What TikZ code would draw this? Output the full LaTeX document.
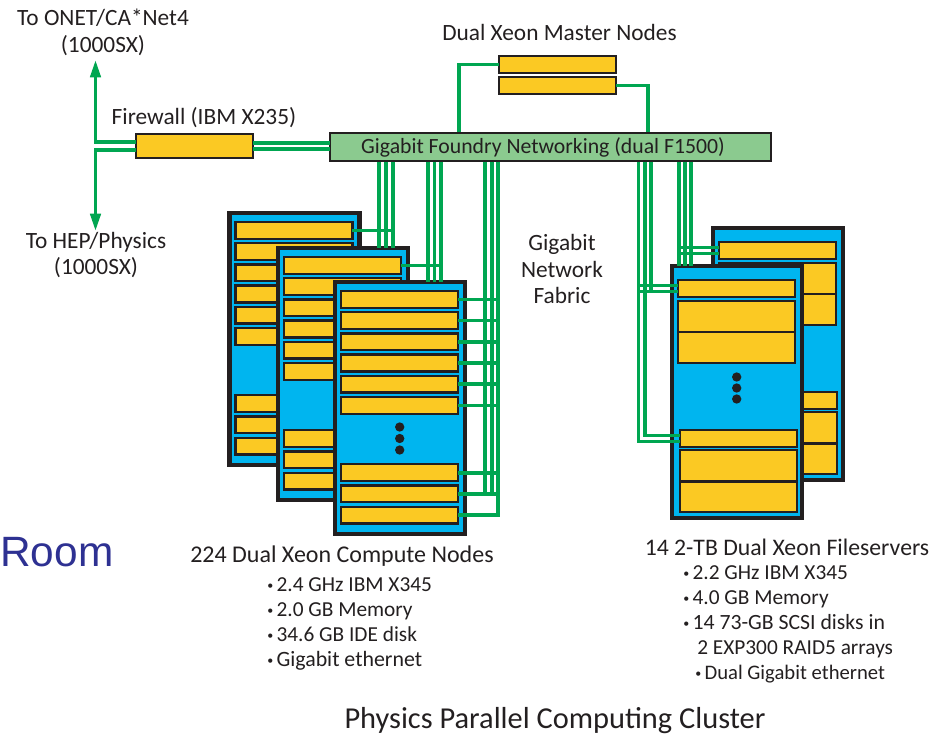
\documentclass[tikz,border=0pt]{standalone}
\usepackage{fontspec}
\setmainfont{Carlito}
\newfontfamily\arialfont{Liberation Sans}
\usetikzlibrary{arrows.meta,calc}
\definecolor{netgreen}{HTML}{00A651}
\definecolor{rackblue}{HTML}{00B5EF}
\definecolor{modyellow}{HTML}{FBC923}
\definecolor{inkdark}{HTML}{231F20}
\definecolor{switchgreen}{HTML}{8BCA8F}
\definecolor{roomblue}{HTML}{2E3192}
\tikzset{
  rackbox/.style={draw=inkdark,fill=rackblue,line width=3.2pt,anchor=north west,inner sep=0pt,outer sep=0pt,minimum width=97.5pt,minimum height=189pt},
  modbox/.style={draw=inkdark,fill=modyellow,line width=1.7pt,anchor=north west,inner sep=0pt,outer sep=0pt,minimum width=87.7pt,minimum height=#1},
  modbox/.default=12.6pt,
  dotmark/.style={circle,fill=inkdark,inner sep=0pt,minimum size=7pt},
  wire/.style={draw=netgreen,line width=2.7pt},
  thickwire/.style={draw=netgreen,line width=3pt},
  label/.style={text=inkdark,inner sep=0pt,font=\fontsize{17.5}{20}\selectfont,align=center},
  listlabel/.style={text=inkdark,inner sep=0pt,font=\fontsize{16}{18.75}\selectfont,anchor=base west},
}
\newcommand{\computerack}[3]{%
  \node[rackbox] (#1) at (#2+2,#3+2) {};
  \foreach \i in {0,...,5}{\node[modbox] (#1m\i) at ({#2+8},{#3+11+21.2*\i}) {};}
  \foreach \i in {0,1,2}{\node[modbox] (#1b\i) at ({#2+8},{#3+184.3+21.2*\i}) {};}
}
\newcommand{\filerack}[4]{%
  \node[rackbox] (#1) at (#2+2,#3+2) {};
  \node[modbox] (#1t0) at ({#2+8},{#3+16}) {};
  \node[modbox=23.2pt] (#1t1) at ({#2+8},{#3+37}) {};
  \node[modbox=23.2pt] (#1t2) at ({#2+8},{#3+68.2}) {};
  \node[modbox] (#1b0) at ({#2+8+#4},{#3+166}) {};
  \node[modbox=23.2pt] (#1b1) at ({#2+8+#4},{#3+186}) {};
  \node[modbox=23.2pt] (#1b2) at ({#2+8+#4},{#3+217.4}) {};
}
\newcommand{\bul}{{\fontsize{9}{9}\selectfont\raisebox{1pt}{•}}\hspace{2.5pt}}
\begin{document}
\begin{tikzpicture}[x=0.75pt,y=-0.75pt]
\useasboundingbox (0,0) rectangle (933,736);
% racks
\computerack{ra}{227.5}{211}
\computerack{rb}{276}{246}
\computerack{rc}{333}{280}
\filerack{fb}{711}{226}{1}
\filerack{ff}{670}{264}{2}
\foreach \n/\y in {d1/427,d2/438.5,d3/450}{\node[dotmark] (\n) at (399.7,\y) {};}
\foreach \n/\y in {e1/377,e2/388,e3/399}{\node[dotmark] (\n) at (736.7,\y) {};}
% switch, firewall, masters
\node[draw=inkdark,fill=switchgreen,line width=1.5pt,inner sep=0pt,outer sep=0pt,minimum width=331pt,minimum height=21pt,anchor=north west] (sw) at (330,133) {};
\node[modbox=18pt] (fw) at (136,134) {};
\node[modbox] (m1) at (499,56) {};
\node[modbox] (m2) at (499,77) {};
% bundle coordinates
\foreach \n/\x in {a1/379,a2/386,a3/393,c1/428,c2/434.5,c3/441,g1/485,g2/492,g3/498,l1/638.5,l2/645,l3/651,q1/679,q2/685,q3/691}{\coordinate (\n) at (\x,162);}
\coordinate (upTip) at (95.5,60);
\coordinate (downTip) at (95.5,231);
\coordinate (mL) at (459,132);
\coordinate (mR) at (648,132);
% firewall links
\draw[wire,-{Triangle[length=13pt,width=7.7pt]}] ([yshift=3pt]fw.west) -| (upTip);
\draw[wire,-{Triangle[length=13pt,width=7.7pt]}] ([yshift=-3pt]fw.west) -| (downTip);
\draw[thickwire] ([yshift=2.25pt]fw.east) -- ([yshift=2.25pt]fw.east -| sw.west);
\draw[thickwire] ([yshift=-2.25pt]fw.east) -- ([yshift=-2.25pt]fw.east -| sw.west);
% masters
\draw[wire] (m1.west) -| (mL);
\draw[wire] (m2.east) -| (mR);
% compute bundles
\foreach \n in {a1,a2,a3}{\draw[wire] (\n) -- (\n |- rb.north);}
\foreach \n in {c1,c2,c3}{\draw[wire] (\n) -- (\n |- rc.north);}
\draw[wire] (ram0.east) -- (ram0.east -| a3);
\draw[wire] (rbm0.east) -- (rbm0.east -| c3);
\foreach \n in {rcm0,rcm1,rcm2,rcm3,rcm4,rcm5,rcb0,rcb1}{\draw[wire] (\n.east) -- (\n.east -| g3);}
\draw[wire] (g1) -- (g1 |- rcb1.east);
\draw[wire] (g2) -- (g2 |- rcb1.east);
\draw[wire] (g3) |- (rcb2.east);
% fileserver bundles
\foreach \n in {q1,q2,q3}{\draw[wire] (\n) -- (\n |- ff.north);}
\draw[wire] (l1) |- ([yshift=-2.25pt]ffb0.west);
\draw[wire] (l2) |- ([yshift=2.25pt]ffb0.west);
\draw[wire] (l3) |- ([yshift=-2.25pt]fft0.west);
\draw[wire] ([yshift=2.25pt]fft0.west -| l1) -- ([yshift=2.25pt]fft0.west);
\draw[wire] ([yshift=-2.25pt]fft0.west -| l1) -- ([yshift=-2.25pt]fft0.west);
\draw[wire] ([yshift=2.25pt]fbt0.west -| q1) -- ([yshift=2.25pt]fbt0.west);
\draw[wire] ([yshift=-2.25pt]fbt0.west -| q1) -- ([yshift=-2.25pt]fbt0.west);
% labels
\node[label] (tOnet) at (103,32) {To ONET/CA*Net4\\(1000SX)};
\node[label] (tHep) at (96,255) {To HEP/Physics\\(1000SX)};
\node[label] (tFw) at (204,118) {Firewall (IBM X235)};
\node[label] (tMaster) at (559.5,32) {Dual Xeon Master Nodes};
\node[label,font=\fontsize{16.3}{20}\selectfont] (tSw) at (543,147) {Gigabit Foundry Networking (dual F1500)};
\node[label] (tFabric) at (562,269) {Gigabit\\Network\\Fabric};
\node[label,font=\fontsize{18}{20}\selectfont] (tCompute) at (342,556) {224 Dual Xeon Compute Nodes};
\node[label,font=\fontsize{17.8}{20}\selectfont] (tFile) at (787,547) {14 2-TB Dual Xeon Fileservers};
\node[listlabel] (la) at (267,591) {\bul 2.4 GHz IBM X345};
\node[listlabel] (lb) at (267,616) {\bul 2.0 GB Memory};
\node[listlabel] (lc) at (267,641) {\bul 34.6 GB IDE disk};
\node[listlabel,font=\fontsize{16.4}{18.75}\selectfont] (ld) at (267,666) {\bul Gigabit ethernet};
\node[listlabel] (ra1) at (683,579) {\bul 2.2 GHz IBM X345};
\node[listlabel] (ra2) at (683,604) {\bul 4.0 GB Memory};
\node[listlabel,font=\fontsize{16.3}{18.75}\selectfont] (ra3) at (683,629) {\bul 14 73-GB SCSI disks in};
\node[listlabel] (ra4) at (697,654) {2 EXP300 RAID5 arrays};
\node[listlabel,font=\fontsize{15.5}{18.75}\selectfont] (ra5) at (695,679) {\bul Dual Gigabit ethernet};
\node[label,font=\fontsize{22.8}{24}\selectfont,anchor=base] (tTitle) at (555,728) {Physics Parallel Computing Cluster};
\node[inner sep=0pt,anchor=base west,text=roomblue,font=\arialfont\fontsize{31.8}{36}\selectfont] (tRoom) at (0,566) {Room};
\end{tikzpicture}
\end{document}
